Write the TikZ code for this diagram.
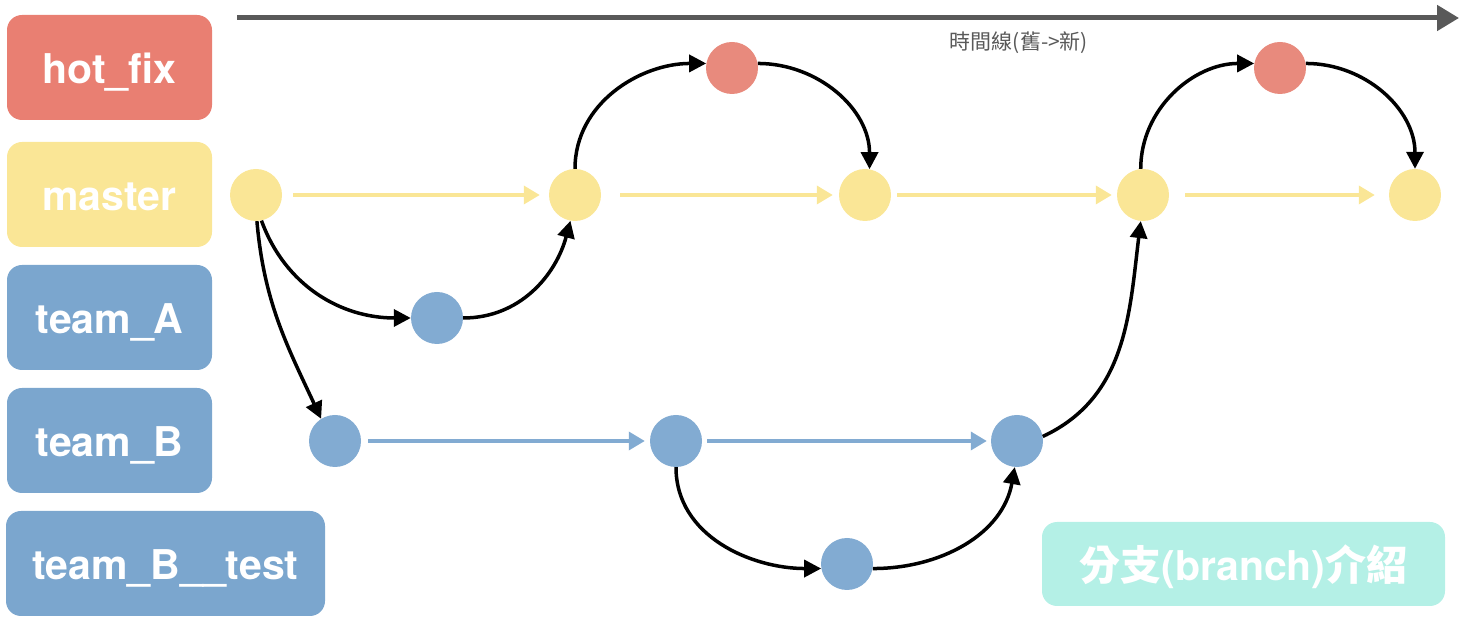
\documentclass[tikz,border=0pt]{standalone}
\usepackage{fontspec}
\setmainfont{TeX Gyre Heros}
\newfontfamily\cjk{Noto Sans CJK TC}
\usetikzlibrary{arrows.meta}
\definecolor{fixred}{HTML}{E97F72}
\definecolor{fixdot}{HTML}{E88A7D}
\definecolor{masteryel}{HTML}{FAE696}
\definecolor{teamblue}{HTML}{7BA6CE}
\definecolor{teamdot}{HTML}{82ABD2}
\definecolor{legteal}{HTML}{B4F0E6}
\definecolor{timegray}{HTML}{595959}
\begin{document}
\begin{tikzpicture}[x=1pt,y=1pt,
  tag/.style={rounded corners=15pt, minimum width=205pt, minimum height=105pt, inner sep=0pt,
    text height=33pt, text depth=0pt, text=white, font=\fontsize{41}{48}\selectfont\bfseries},
  commit/.style={circle, minimum size=52pt, inner sep=0pt},
  flow/.style={line width=3.5pt, -{Triangle[length=16pt,width=18pt]}},
  merge/.style={line width=3.5pt, black, -{Triangle[length=17pt,width=17pt]}},
]
\useasboundingbox (0,0) rectangle (1464,626);

\coordinate (t0) at (237,608);
\coordinate (t1) at (1459,608);
\draw [line width=5pt, timegray, -{Triangle[length=22pt,width=25pt]}] (t0) -- (t1);
\node [text=timegray, font=\fontsize{21}{24}\selectfont\cjk] (timeline) at (1019,583) {時間線(舊->新)};

\node [tag, fill=fixred] (hotfix) at (109.5,558.5) {hot\_fix};
\node [tag, fill=masteryel] (master) at (109.5,431.5) {master};
\node [tag, fill=teamblue] (teamA) at (109.5,308.5) {team\_A};
\node [tag, fill=teamblue] (teamB) at (109.5,185.5) {team\_B};
\node [tag, fill=teamblue, minimum width=319pt] (teamBtest) at (165.5,62.5) {team\_B\_\_test};
\node [tag, fill=legteal, minimum width=403pt, minimum height=84pt] (legend) at (1243.5,62)
  {{\cjk\bfseries 分支}(branch){\cjk\bfseries 介紹}};

\node [commit, fill=masteryel] (m1) at (256,431) {};
\node [commit, fill=masteryel] (m2) at (575,431) {};
\node [commit, fill=masteryel] (m3) at (865,431) {};
\node [commit, fill=masteryel] (m4) at (1143,431) {};
\node [commit, fill=masteryel] (m5) at (1415,431) {};
\node [commit, fill=fixdot] (h1) at (732,558) {};
\node [commit, fill=fixdot] (h2) at (1280,558) {};
\node [commit, fill=teamdot] (a1) at (437,308) {};
\node [commit, fill=teamdot] (b1) at (335,185) {};
\node [commit, fill=teamdot] (b2) at (676,185) {};
\node [commit, fill=teamdot] (b3) at (1017,185) {};
\node [commit, fill=teamdot] (c1) at (847,62) {};

\draw [flow, masteryel, shorten <=11pt, shorten >=9pt] (m1) -- (m2);
\draw [flow, masteryel, shorten <=19pt, shorten >=6pt] (m2) -- (m3);
\draw [flow, masteryel, shorten <=6pt, shorten >=5pt] (m3) -- (m4);
\draw [flow, masteryel, shorten <=16pt, shorten >=14pt] (m4) -- (m5);
\draw [flow, teamdot, shorten <=7pt, shorten >=5pt] (b1) -- (b2);
\draw [flow, teamdot, shorten <=5pt, shorten >=4pt] (b2) -- (b3);

\draw [merge] (m1.-78) to[out=-70, in=180] (a1.west);
\draw [merge] (a1.east) to[out=0, in=-105] (m2.-100);
\draw [merge] (m1.-88) to[out=-85, in=115] (b1.122);
\draw [merge] (m2.north) to[out=90, in=180] (h1.170);
\draw [merge] (h1.10) to[out=0, in=90] (m3.80);
\draw [merge] (b2.south) to[out=-90, in=180] (c1.190);
\draw [merge] (c1.-10) to[out=0, in=-100] (b3.-95);
\draw [merge] (b3.10) to[out=25, in=-97] (m4.-95);
\draw [merge] (m4.95) to[out=90, in=180] (h2.170);
\draw [merge] (h2.10) to[out=0, in=90] (m5.north);
\end{tikzpicture}
\end{document}
